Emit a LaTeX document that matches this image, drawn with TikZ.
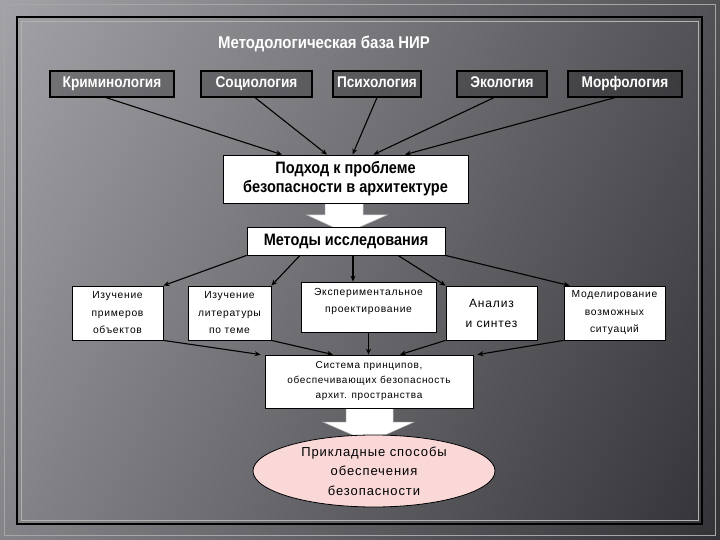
\documentclass[tikz,border=0pt]{standalone}
\usepackage{fontspec}
\setmainfont{Liberation Sans}[FakeStretch=0.88]
\newfontfamily\spaced{Liberation Sans}[LetterSpace=7]
\usepackage{tikz}
\usetikzlibrary{arrows.meta,shapes.geometric}

\definecolor{bgLight}{RGB}{150,150,156}
\definecolor{bgDark}{RGB}{58,58,63}
\definecolor{rose}{RGB}{250,216,216}

\begin{document}
\begin{tikzpicture}[x=1pt,y=-1pt,
    topbox/.style={draw=black,line width=1.2pt,fill=black,fill opacity=0.25,text opacity=1,
        text=white,font=\fontsize{15.5}{17}\selectfont\bfseries,minimum height=26pt,inner sep=0pt,
        text height=11pt,text depth=3pt},
    whitebox/.style={draw=black,line width=0.8pt,fill=white,inner sep=0pt,align=center},
    small/.style={font=\spaced\fontsize{10.3}{17.5}\selectfont},
    arr/.style={-{Stealth[length=6pt,width=5pt]},line width=1.1pt,black},
    bigarrow/.style={fill=white,draw=gray!50,line width=0.5pt}]
    % background and frame
    \shade[left color=bgLight,right color=bgDark] (0,0) rectangle (720,540);
    \shade[top color=white,bottom color=black,opacity=0.12] (0,0) rectangle (720,540);
    \draw[gray!70,line width=0.6pt] (4,4) rectangle (715,535);
    \draw[gray!60,line width=0.6pt] (21,21) rectangle (698,520);
    \draw[black,line width=1.3pt] (17,17) rectangle (702,524);
    \useasboundingbox (0,0) rectangle (720,540);

    % block arrows
    \path[bigarrow] (325,203) -- (325,215) -- (307,215) -- (346,233) -- (387,215) -- (363,215) -- (363,203);
    \path[bigarrow] (346,408) -- (346,422) -- (323,422) -- (369,442) -- (414,422) -- (393,422) -- (393,408);

    \node[text=white,font=\fontsize{17}{19}\selectfont\bfseries] (title) at (324,44) {Методологическая база НИР};

    \foreach\name/\x/\w/\txt in{krim/112/124/Криминология,soc/256.5/111/Социология,
        psy/377/88/Психология,eco/502/90/Экология,morf/625/114/Морфология}{
        \node[topbox,minimum width=\w pt] at(\x,84)(\name){\txt};
    }

    \node[whitebox,minimum width=245pt,minimum height=48pt,font=\fontsize{16.5}{19}\selectfont\bfseries]
        at(345.5,179)(podhod){Подход к проблеме\\безопасности в архитектуре};
    \node[whitebox,minimum width=198pt,minimum height=28pt,font=\fontsize{16.5}{18}\selectfont\bfseries]
        at(346,241)(metody){Методы исследования};

    \node[whitebox,small,minimum width=91pt,minimum height=54pt] at(117.5,313)(izpr){Изучение\\примеров\\объектов};
    \node[whitebox,small,minimum width=83pt,minimum height=54pt] at(229.5,313)(izlit){Изучение\\литературы\\по теме};
    \node[whitebox,minimum width=135pt,minimum height=50pt] at(368.5,307)(eksp){};
    \node[small,align=center,anchor=north] at([yshift=-3pt]eksp.north)(eksptxt){Экспериментальное\\проектирование};
    \node[whitebox,minimum width=91pt,minimum height=54pt,font=\spaced\fontsize{12}{20}\selectfont]
        at(491.5,313)(anal){Анализ\\и синтез};
    \node[whitebox,small,minimum width=101pt,minimum height=54pt] at(614.5,313)(model){Моделирование\\возможных\\ситуаций};

    \node[whitebox,minimum width=208pt,minimum height=53pt,font=\spaced\fontsize{10}{15}\selectfont]
        at(369,381.5)(sistema){Система принципов,\\обеспечивающих безопасность\\архит. пространства};

    \node[ellipse,draw=black,line width=0.8pt,fill=rose,minimum width=242pt,minimum height=72pt,inner sep=0pt,
        align=center,font=\spaced\fontsize{13}{19.5}\selectfont]
        at(374,471)(sposoby){Прикладные способы\\обеспечения\\безопасности};

    % connectors
    \foreach\src/\sx/\dx in{krim/-6/-63.5,soc/-1.5/-18.5,psy/0/7,eco/-8/28,morf/-10/59.5}{
        \draw[arr]([xshift=\sx pt]\src.south) -- ([xshift=\dx pt]podhod.north);
    }
    \draw[arr](metody.south west) -- (izpr.north east);
    \draw[arr]([xshift=-46pt]metody.south) -- (izlit.north east);
    \draw[arr]([xshift=7pt]metody.south) -- ([xshift=7pt]metody.south |- eksp.north);
    \draw[arr]([xshift=52pt]metody.south) -- (anal.north west);
    \draw[arr](metody.south east) -- ([xshift=6pt]model.north west);

    \draw[arr](izpr.south east) -- ([xshift=-4pt]sistema.north west);
    \draw[arr](izlit.south east) -- ([xshift=-36pt]sistema.north);
    \draw[arr](eksp.south) -- (eksp.south |- sistema.north);
    \draw[arr](anal.south west) -- ([xshift=31pt]sistema.north);
    \draw[arr](model.south west) -- ([xshift=4pt]sistema.north east);
\end{tikzpicture}
\end{document}
